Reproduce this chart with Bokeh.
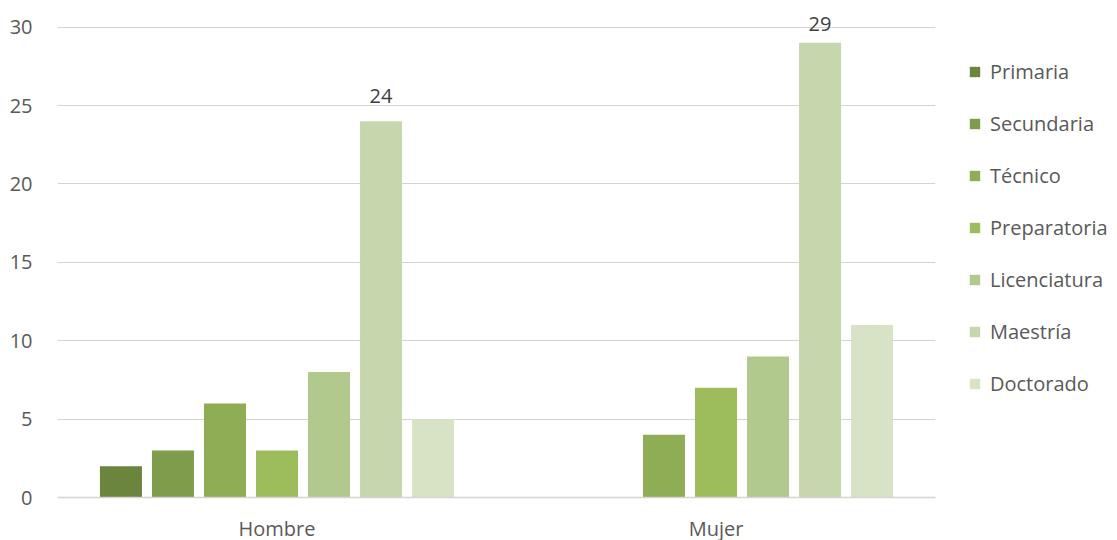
from bokeh.plotting import figure
from bokeh.models import ColumnDataSource, FactorRange, Legend, LegendItem, SingleIntervalTicker
from bokeh.transform import dodge
from bokeh.core.properties import value
from bokeh.embed import file_html
from bokeh.resources import INLINE

groups = ["Hombre", "Mujer"]
series = ["Primaria", "Secundaria", "Técnico", "Preparatoria", "Licenciatura", "Maestría", "Doctorado"]
primaria = [2, 0]
secundaria = [3, 0]
tecnico = [6, 4]
preparatoria = [3, 7]
licenciatura = [8, 9]
maestria = [24, 29]
doctorado = [5, 11]
labelled_series = ["Maestría"]
colors = ["#6B843E", "#7E9C4C", "#8FAD55", "#9DBD5C", "#B2C98E", "#C7D7AD", "#D8E3C6"]
label_offsets = [-18, -12]  # pixel offsets of the data labels (style)

data = {"group": groups, "lbl_off": label_offsets}
for name, vals in zip(series, [primaria, secundaria, tecnico, preparatoria, licenciatura, maestria, doctorado]):
    data[name] = vals
    data[name + "_lbl"] = [str(v) for v in vals]
src = ColumnDataSource(data)

FONT = "Open Sans"
TXT = "#595959"
FS = "20px"

p = figure(x_range=FactorRange(*groups, range_padding=0), y_range=(0, 31),
           frame_width=878, frame_height=486, output_backend="svg", toolbar_location=None,
           min_border_left=57, min_border_top=11, min_border_right=0, min_border_bottom=0)
p.outline_line_color = None

pitch = 0.1185
bw = 0.0957
items = []
for i, name in enumerate(series):
    off = (i - 3) * pitch
    r = p.vbar(x=dodge("group", off, range=p.x_range), top=name, width=bw, source=src,
               fill_color=colors[i], line_color=None)
    items.append(LegendItem(label=name, renderers=[r]))
    if name in labelled_series:
        p.text(x=dodge("group", off, range=p.x_range), y=name, text=name + "_lbl", source=src,
               text_align="center", text_baseline="bottom", y_offset="lbl_off",
               text_font=value(FONT), text_font_size=FS, text_color="#404040")

legend = Legend(items=items, location="top_left", orientation="vertical",
                border_line_color=None, background_fill_alpha=0,
                padding=0, margin=33, spacing=25, label_height=26,
                title=" ", title_text_font_size="10px", title_standoff=3,
                glyph_width=13, glyph_height=13, label_standoff=9,
                label_text_font=FONT, label_text_font_size=FS, label_text_color=TXT)
p.add_layout(legend, "right")

p.yaxis.ticker = SingleIntervalTicker(interval=5)
p.yaxis.axis_line_color = None
p.yaxis.major_tick_line_color = None
p.yaxis.minor_tick_line_color = None
p.yaxis.major_tick_out = 0
p.yaxis.major_label_standoff = 21
p.yaxis.major_label_text_font = FONT
p.yaxis.major_label_text_font_size = FS
p.yaxis.major_label_text_color = TXT

p.xaxis.axis_line_color = "#D4D4D4"
p.xaxis.axis_line_width = 1.5
p.xaxis.major_tick_line_color = None
p.xaxis.major_tick_out = 0
p.xaxis.major_label_standoff = 17
p.xaxis.major_label_text_font = FONT
p.xaxis.major_label_text_font_size = FS
p.xaxis.major_label_text_color = TXT

p.xgrid.grid_line_color = None
p.ygrid.grid_line_color = "#D4D4D4"
p.ygrid.grid_line_width = 1.2

open("out.html", "w").write(file_html(p, INLINE))
